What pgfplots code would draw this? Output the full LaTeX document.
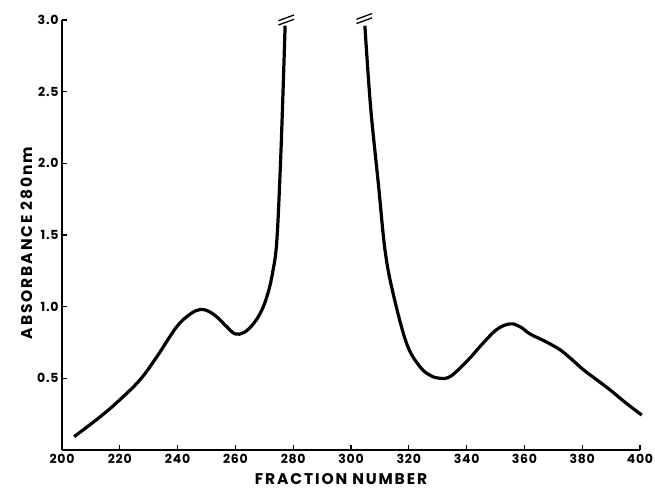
\documentclass[border=0pt]{standalone}
\usepackage{fontspec}
\setmainfont{Poppins}
\usepackage{pgfplots}
\pgfplotsset{compat=1.18}
\begin{document}
\begin{tikzpicture}
\begin{axis}[
  scale only axis,
  width=578pt, height=430pt,
  xmin=200, xmax=400, ymin=0, ymax=3.0,
  axis x line=bottom, axis y line=left,
  axis line style={-, line width=1.3pt},
  tick align=inside,
  major tick length=5pt,
  tick style={line width=1.3pt, black},
  xtick={220,240,...,400},
  extra x ticks={200}, extra x tick style={major tick length=0pt},
  ytick={0.5,1.0,1.5,2.0,2.5,3.0},
  /pgf/number format/assume math mode=true,
  yticklabel style={/pgf/number format/.cd, fixed, fixed zerofill, precision=1},
  ticklabel style={font=\fontsize{12.5}{13}\selectfont\bfseries\addfontfeature{LetterSpace=6}},
  xticklabel style={yshift=-1pt},
  xlabel={FRACTION NUMBER},
  ylabel={ABSORBANCE 280nm},
  label style={font=\fontsize{15.5}{16}\selectfont\bfseries\addfontfeature{LetterSpace=12}},
  xlabel style={yshift=-3pt, xshift=-10pt},
  ylabel style={yshift=-2pt, xshift=-8pt},
  clip=false,
]
\addplot[black, line width=3.2pt, smooth, tension=0.6] coordinates {
(204.2,0.093) (213.1,0.23) (220,0.35) (227,0.49) (232.8,0.65) (239.7,0.86)
(244.5,0.95) (247.8,0.98) (250.5,0.97) (253.5,0.93) (257,0.86) (259.9,0.81)
(263,0.82) (266.2,0.88) (269,0.97) (271.2,1.09) (272.9,1.24) (274.3,1.45)
(275.5,1.95) (276.4,2.45) (277.2,2.96)
};
\addplot[black, line width=3.2pt, smooth, tension=0.6] coordinates {
(304.8,2.96) (306,2.6) (307.2,2.30) (309.5,1.85) (311.8,1.39) (314.6,1.09)
(319.3,0.74) (323.9,0.58) (327.5,0.52) (330.8,0.50) (334.5,0.515) (340.6,0.63)
(345,0.73) (350.4,0.84) (355,0.88) (358.5,0.86) (361.9,0.81) (367,0.76)
(372.3,0.70) (376.5,0.63) (380.4,0.56) (385,0.49) (389.6,0.42) (395,0.33) (400.6,0.244)
};
\draw[line width=1.3pt] (axis cs:274.9,2.965) -- (axis cs:280.3,3.005);
\draw[line width=1.3pt] (axis cs:274.9,2.995) -- (axis cs:280.3,3.035);
\draw[line width=1.3pt] (axis cs:301.9,2.975) -- (axis cs:307.3,3.015);
\draw[line width=1.3pt] (axis cs:301.9,3.005) -- (axis cs:307.3,3.045);
\end{axis}
\pgfresetboundingbox
\path ([shift={(-62pt,-42pt)}]current axis.south west) rectangle ([shift={(15pt,20pt)}]current axis.north east);
\end{tikzpicture}
\end{document}
